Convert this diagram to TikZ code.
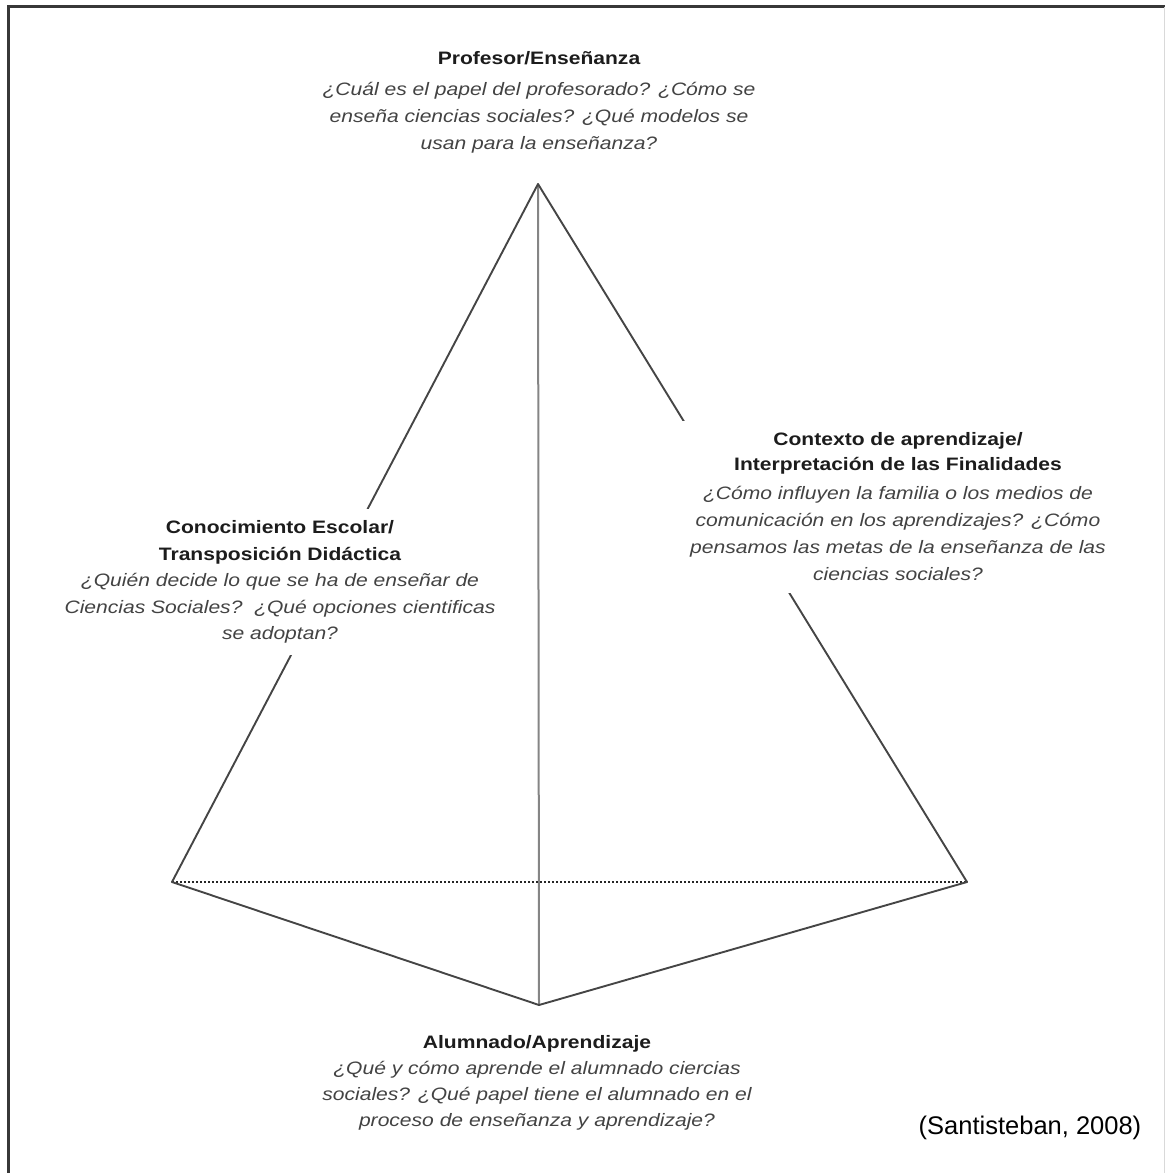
\documentclass[tikz,border=0pt]{standalone}
\usepackage{fontspec}
\setmainfont{Liberation Sans}
\newfontfamily\diagfont[FakeStretch=1.17]{Liberation Sans}
\definecolor{framegray}{HTML}{383838}
\definecolor{edgegray}{HTML}{454545}
\definecolor{axisgray}{HTML}{858585}
\definecolor{dotgray}{HTML}{262626}
\definecolor{titlegray}{HTML}{1C1C1C}
\definecolor{bodygray}{HTML}{434343}
\newcommand\cornertitle[1]{\textcolor{titlegray}{\bfseries\upshape #1}}
\begin{document}
\begin{tikzpicture}[x=1pt,y=-1pt,
  frameline/.style={line width=3pt, draw=framegray},
  edge/.style={line width=1.9pt, draw=edgegray, line cap=round, line join=round},
  axis/.style={line width=2pt, draw=axisgray},
  baseline dots/.style={line width=2.3pt, draw=dotgray, dash pattern=on 1.8pt off 2.2pt},
  corner/.style={fill=white, inner sep=12pt, align=center, text=bodygray,
    font=\diagfont\itshape\fontsize{18}{27}\selectfont},
  source/.style={font=\fontsize{25.5}{30}\selectfont, text=black}
]
\useasboundingbox (0,0) rectangle (1165,1173);

% outer frame
\draw[frameline] (8.5,1173) -- (8.5,6.5) -- (1165,6.5);
\draw[line width=1pt, draw=black!15] (1164,6.5) -- (1164,1173);

% vertices of the tetrahedron
\coordinate (T) at (538,184);
\coordinate (L) at (172,882);
\coordinate (R) at (967,882);
\coordinate (B) at (539,1005);

% hidden base edge and central edge
\draw[axis] (T) -- (B);
\draw[baseline dots] (L) -- (R);

% visible edges
\draw[edge] (T) -- (L);
\draw[edge] (T) -- (R);
\draw[edge] (L) -- (B) -- (R);

% vertex labels (white boxes interrupt the edges)
\node[corner] (profesor) at (539,102) {%
  \cornertitle{Profesor/Enseñanza}\\[4pt]
  ¿Cuál es el papel del profesorado? ¿Cómo se\\
  enseña ciencias sociales? ¿Qué modelos se\\
  usan para la enseñanza?};

\node[corner] (conocimiento) at (280,582) {%
  \cornertitle{Conocimiento Escolar/}\\[-0.5pt]
  \cornertitle{Transposición Didáctica}\\[-0.5pt]
  ¿Quién decide lo que se ha de enseñar de\\[-0.5pt]
  Ciencias Sociales?\ \ ¿Qué opciones cientificas\\[-0.5pt]
  se adoptan?};

\node[corner] (contexto) at (898,507) {%
  \cornertitle{Contexto de aprendizaje/}\\[-2pt]
  \cornertitle{Interpretación de las Finalidades}\\[2pt]
  ¿Cómo influyen la familia o los medios de\\
  comunicación en los aprendizajes? ¿Cómo\\
  pensamos las metas de la enseñanza de las\\
  ciencias sociales?};

\node[corner] (alumnado) at (537,1083) {%
  \cornertitle{Alumnado/Aprendizaje}\\[-1pt]
  ¿Qué y cómo aprende el alumnado ciercias\\[-1pt]
  sociales? ¿Qué papel tiene el alumnado en el\\[-1pt]
  proceso de enseñanza y aprendizaje?};

\node[source] (cita) at (1030,1128) {(Santisteban, 2008)};
\end{tikzpicture}
\end{document}
